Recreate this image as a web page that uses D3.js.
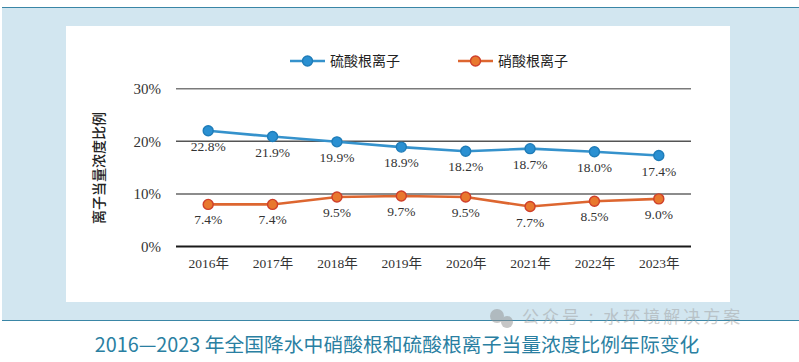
<!DOCTYPE html>
<html>
<head>
<meta charset="utf-8">
<script src="https://cdn.jsdelivr.net/npm/d3@7"></script>
<style>
  body { margin: 0; background: #fff; }
  svg { display: block; }
</style>
</head>
<body>
<div id="viz"></div>
<script>
const width = 799;
const height = 362;

// Data
const years = ['2016年', '2017年', '2018年', '2019年', '2020年', '2021年', '2022年', '2023年'];
// plotted positions
const sulfate = [22.0, 20.9, 19.9, 18.9, 18.1, 18.6, 18.0, 17.3];
const nitrate = [8.0, 8.0, 9.4, 9.6, 9.4, 7.6, 8.6, 9.05];
// value labels as printed
const sulfateLabels = ['22.8%', '21.9%', '19.9%', '18.9%', '18.2%', '18.7%', '18.0%', '17.4%'];
const nitrateLabels = ['7.4%', '7.4%', '9.5%', '9.7%', '9.5%', '7.7%', '8.5%', '9.0%'];
const yTicks = [0, 10, 20, 30];
const seriesNames = ['硫酸根离子', '硝酸根离子'];

const plot = {left: 176, right: 691, top: 88.7, bottom: 246.5};

const svg = d3.select('#viz')
  .append('svg')
    .attr('width', width)
    .attr('height', height);

// Background frame
svg.append('rect')
  .attr('x', 2).attr('y', 7)
  .attr('width', width - 2).attr('height', 313)
  .attr('fill', '#d2e6f0');
svg.append('line')
  .attr('x1', 2).attr('x2', width).attr('y1', 7.5).attr('y2', 7.5)
  .attr('stroke', '#3a86a6').attr('stroke-width', 1.2);
svg.append('line')
  .attr('x1', 2).attr('x2', width).attr('y1', 320.5).attr('y2', 320.5)
  .attr('stroke', '#3a86a6').attr('stroke-width', 1.2);
svg.append('rect')
  .attr('x', 66).attr('y', 26)
  .attr('width', 664).attr('height', 276)
  .attr('fill', '#ffffff');

// Scales
const xScale = d3.scalePoint()
  .domain(years)
  .range([plot.left, plot.right])
  .padding(0.5);
const yScale = d3.scaleLinear()
  .domain([0, 30])
  .range([plot.bottom, plot.top]);

// Gridlines
const gridColors = {0: '#1a1a1a', 10: '#8c8c8c', 20: '#555555', 30: '#7a7a7a'};
const gridWidths = {0: 1.8, 10: 2, 20: 1.4, 30: 1.6};
svg.append('g')
  .selectAll('line')
  .data(yTicks)
  .join('line')
    .attr('x1', plot.left)
    .attr('x2', plot.right)
    .attr('y1', d => yScale(d))
    .attr('y2', d => yScale(d))
    .attr('stroke', d => gridColors[d])
    .attr('stroke-width', d => gridWidths[d]);

// y-axis labels
const yAxis = d3.axisLeft(yScale)
  .tickValues(yTicks)
  .tickFormat(d => d + '%')
  .tickSize(0)
  .tickPadding(0);
const yAxisGroup = svg.append('g')
  .attr('transform', `translate(161, 0)`)
  .call(yAxis);
yAxisGroup.select('.domain').remove();
yAxisGroup.selectAll('text')
  .attr('fill', '#333')
  .style('font-family', '"Liberation Serif", serif')
  .style('font-size', '15px');

// x-axis labels
const xAxis = d3.axisBottom(xScale).tickSize(0).tickPadding(0);
const xAxisGroup = svg.append('g')
  .attr('transform', `translate(0, 258)`)
  .call(xAxis);
xAxisGroup.select('.domain').remove();
xAxisGroup.selectAll('text')
  .attr('fill', '#333')
  .style('font-family', '"Liberation Serif", "Noto Sans CJK SC", serif')
  .style('font-size', '13.5px');

// y-axis title
svg.append('text')
  .attr('transform', `translate(104, 168) rotate(-90)`)
  .attr('text-anchor', 'middle')
  .attr('fill', '#222')
  .style('font-family', '"Noto Sans CJK SC", sans-serif')
  .style('font-size', '14px')
  .style('font-weight', 500)
  .text('离子当量浓度比例');

// Lines
const series = [
  {name: seriesNames[0], values: sulfate, labels: sulfateLabels, line: '#3592cc', fill: '#2a90d2', stroke: '#1f7cb8'},
  {name: seriesNames[1], values: nitrate, labels: nitrateLabels, line: '#dd6630', fill: '#e8782e', stroke: '#cf3f2a'}
];

const lineGen = d3.line()
  .x((d, i) => xScale(years[i]))
  .y(d => yScale(d));

series.forEach(s => {
  svg.append('path')
    .attr('d', lineGen(s.values))
    .attr('fill', 'none')
    .attr('stroke', s.line)
    .attr('stroke-width', 2.6);
  svg.append('g')
    .selectAll('circle')
    .data(s.values)
    .join('circle')
      .attr('cx', (d, i) => xScale(years[i]))
      .attr('cy', d => yScale(d))
      .attr('r', 5)
      .attr('fill', s.fill)
      .attr('stroke', s.stroke)
      .attr('stroke-width', 1.4);
  svg.append('g')
    .selectAll('text')
    .data(s.values)
    .join('text')
      .attr('x', (d, i) => xScale(years[i]))
      .attr('y', d => yScale(d) + 20)
      .attr('text-anchor', 'middle')
      .attr('fill', '#333')
      .style('font-family', '"Liberation Serif", serif')
      .style('font-size', '13.5px')
      .text((d, i) => s.labels[i]);
});

// Legend
const legendX = [290, 458];
series.forEach((s, i) => {
  const g = svg.append('g').attr('transform', `translate(${legendX[i]}, 61)`);
  g.append('line')
    .attr('x1', 0).attr('x2', 35)
    .attr('stroke', s.line).attr('stroke-width', 2.6);
  g.append('circle')
    .attr('cx', 17.5).attr('r', 5)
    .attr('fill', s.fill).attr('stroke', s.stroke).attr('stroke-width', 1.4);
  g.append('text')
    .attr('x', 40).attr('y', 5)
    .attr('fill', '#222')
    .style('font-family', '"Noto Sans CJK SC", sans-serif')
    .style('font-size', '14px')
    .text(s.name);
});

// Watermark (sits just above the caption)
const wm = svg.append('g').attr('opacity', 0.5);
wm.append('circle').attr('cx', 497).attr('cy', 316).attr('r', 7).attr('fill', '#8f8f8f');
wm.append('circle').attr('cx', 507).attr('cy', 322).attr('r', 6).attr('fill', '#8f8f8f');
wm.append('text')
  .attr('x', 522).attr('y', 323)
  .attr('fill', '#a0a0a0')
  .style('font-family', '"Noto Sans CJK SC", sans-serif')
  .style('font-size', '17px')
  .style('letter-spacing', '3px')
  .text('公众号 : 水环境解决方案');

// Caption
svg.append('text')
  .attr('x', 397)
  .attr('y', 352)
  .attr('text-anchor', 'middle')
  .attr('fill', '#2a7fa2')
  .style('font-family', '"Noto Sans CJK SC", sans-serif')
  .style('font-size', '19.8px')
  .text('2016—2023 年全国降水中硝酸根和硫酸根离子当量浓度比例年际变化');
</script>
</body>
</html>
